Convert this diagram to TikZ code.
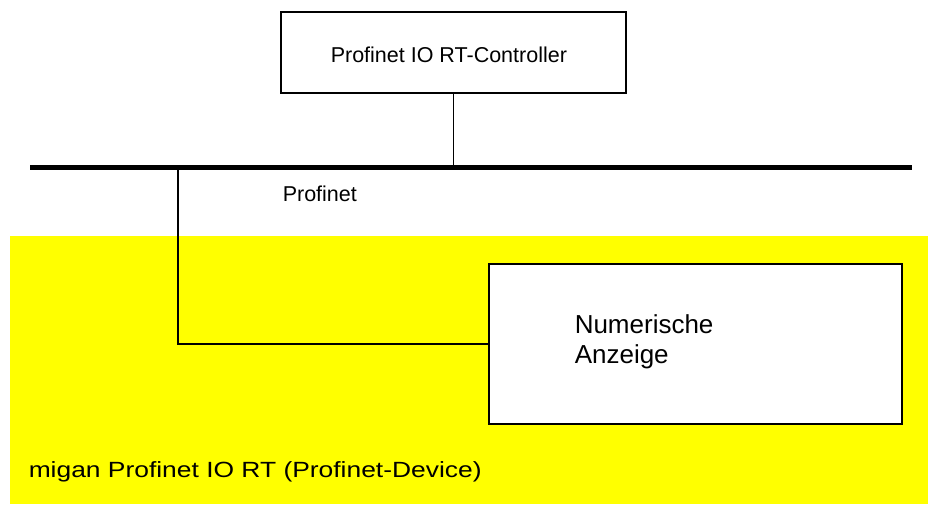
\documentclass[tikz,border=0pt]{standalone}
\usepackage{fontspec}
\usepackage{graphicx}
\setmainfont{Liberation Sans}
\usetikzlibrary{positioning}
\definecolor{device-yellow}{HTML}{FFFF00}

\begin{document}
\begin{tikzpicture}[x=1pt, y=-1pt, line width=1.5,
	box/.style={draw, fill=white, line width=2, inner sep=0pt}]

	\useasboundingbox (0,0) rectangle (928,504);

	% device area
	\fill[device-yellow] (10,236) rectangle (928,504);
	\node[anchor=base west, inner sep=0pt, font=\fontsize{22}{26}\selectfont] (devicelabel) at (28,477)
		{\scalebox{1.2}[1]{migan Profinet IO RT (Profinet-Device)}};

	% controller and bus
	\node[box, minimum width=345, minimum height=81] (controller) at (453.5,52.5) {};
	\node[anchor=base west, inner sep=0pt, font=\fontsize{21.5}{25}\selectfont] (controllertext) at (330,62.5)
		{Profinet IO RT-Controller};
	\coordinate (buswest) at (30,167);
	\coordinate (buseast) at (912,167);
	\draw[line width=5] (buswest) -- (buseast);
	\node[anchor=base west, inner sep=0pt, font=\fontsize{21.5}{25}\selectfont] (buslabel) at (282,201) {Profinet};
	\draw (controller.south) -- (controller.south |- buswest);

	% display
	\node[box, minimum width=413, minimum height=160] (anzeige) at (695.5,344) {};
	\node[anchor=base west, inner sep=0pt, font=\fontsize{26}{30}\selectfont] (anzeigetext) at (574,333) {Numerische};
	\node[anchor=base west, inner sep=0pt, font=\fontsize{26}{30}\selectfont] (anzeigetextb) at (574,363) {Anzeige};

	\coordinate (branch) at (178,167);
	\draw (branch) -- (branch |- anzeige.west) -- (anzeige.west);

\end{tikzpicture}
\end{document}
